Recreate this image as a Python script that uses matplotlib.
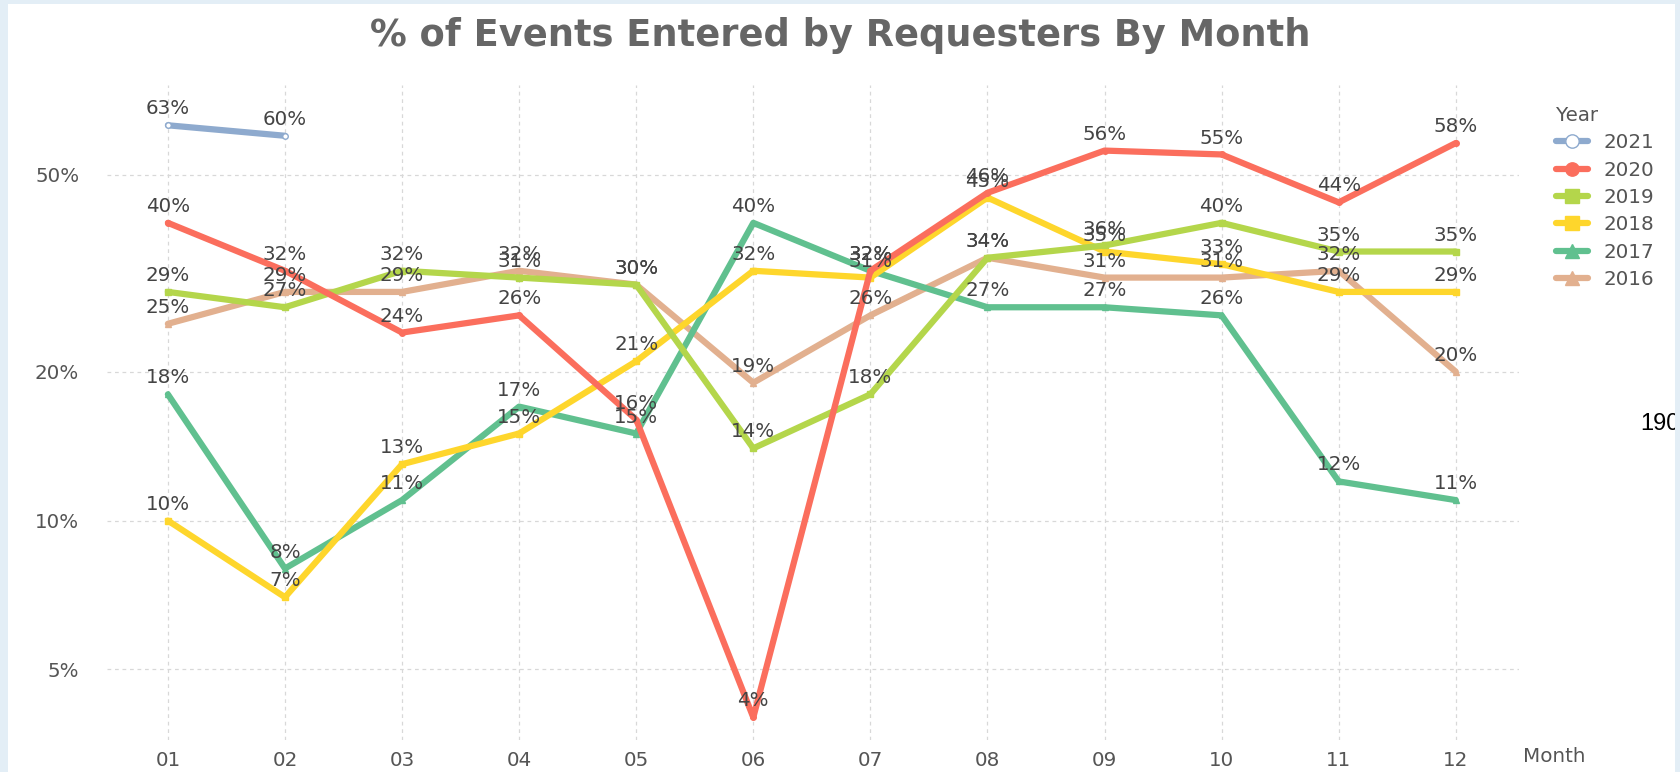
import numpy as np
import matplotlib.pyplot as plt
from matplotlib.patches import Rectangle

months = ["01", "02", "03", "04", "05", "06", "07", "08", "09", "10", "11", "12"]
nan = np.nan

y2021 = [0.63, 0.60, nan, nan, nan, nan, nan, nan, nan, nan, nan, nan]
y2020 = [0.40, 0.32, 0.24, 0.26, 0.16, 0.04, 0.32, 0.46, 0.56, 0.55, 0.44, 0.58]
y2019 = [0.29, 0.27, 0.32, 0.31, 0.30, 0.14, 0.18, 0.34, 0.36, 0.40, 0.35, 0.35]
y2018 = [0.10, 0.07, 0.13, 0.15, 0.21, 0.32, 0.31, 0.45, 0.35, 0.33, 0.29, 0.29]
y2017 = [0.18, 0.08, 0.11, 0.17, 0.15, 0.40, 0.32, 0.27, 0.27, 0.26, 0.12, 0.11]
y2016 = [0.25, 0.29, 0.29, 0.32, 0.30, 0.19, 0.26, 0.34, 0.31, 0.31, 0.32, 0.20]

years = ["2021", "2020", "2019", "2018", "2017", "2016"]
series = [y2021, y2020, y2019, y2018, y2017, y2016]
colors = ["#8eaace", "#fb6e5d", "#b4d64b", "#fed62c", "#60c08f", "#e2b08f"]
markers = ["o", "o", "s", "s", "^", "^"]

yticks = [0.05, 0.10, 0.20, 0.50]
ytick_labels = ["5%", "10%", "20%", "50%"]

W, H = 1681, 772
fig = plt.figure(figsize=(W / 100, H / 100), dpi=100, facecolor="#e3eef6")
fig.add_artist(Rectangle((8 / W, 0), (1675 - 8) / W, 1 - 4 / H,
                         transform=fig.transFigure, facecolor="white",
                         edgecolor="none", zorder=-1))

ax = fig.add_axes([107 / W, 1 - 740 / H, (1519 - 107) / W, (740 - 85) / H])
ax.set_facecolor("none")
x = np.arange(len(months))

# draw older years first so 2020/2021 sit on top
for year, vals, c, m in reversed(list(zip(years, series, colors, markers))):
    vals = np.array(vals, dtype=float)
    mfc = "white" if year == "2021" else c
    ax.plot(x, vals, color=c, lw=4.5, marker=m, ms=4, mfc=mfc, mec=c, mew=1,
            label=year, solid_capstyle="round")
    for xi, v in zip(x, vals):
        if np.isnan(v):
            continue
        ax.annotate(f"{v * 100:.0f}%", (xi, v), xytext=(0, 5),
                    textcoords="offset points", ha="center", va="bottom",
                    fontsize=14.3, color="#444444", zorder=10)

ax.set_yscale("log")
ax.set_ylim(0.036, 0.76)
ax.set_xlim(-0.52, 11.54)
ax.set_yticks(yticks)
ax.set_yticklabels(ytick_labels)
ax.yaxis.set_minor_locator(plt.NullLocator())
ax.set_xticks(x)
ax.set_xticklabels(months)
ax.tick_params(length=0, labelsize=14.3, colors="#555555")
ax.tick_params(axis="y", pad=20)
ax.tick_params(axis="x", pad=8)
for s in ax.spines.values():
    s.set_visible(False)
ax.grid(True, color="#d8d8d8", lw=0.9, ls=(0, (3, 3)))
ax.set_axisbelow(True)

fig.text(1523 / W, 1 - 757 / H, "Month", fontsize=14.3, color="#555555",
         ha="left", va="center")

handles, labels = ax.get_legend_handles_labels()
order = [labels.index(y) for y in years]
leg = ax.legend([handles[i] for i in order], years, title="Year",
                loc="upper left", bbox_to_anchor=(1538 / W, 1 - 88 / H),
                bbox_transform=fig.transFigure, frameon=False, fontsize=14.3,
                title_fontsize=14.3, labelcolor="#555555", handlelength=1.6,
                labelspacing=0.42, markerscale=2.4)
leg.get_title().set_color("#555555")
leg._legend_box.align = "left"

fig.suptitle("% of Events Entered by Requesters By Month", x=0.5,
             y=1 - 36 / H, va="center", fontsize=26.5, fontweight="bold",
             color="#666666")

fig.text(1640 / W, 1 - 424 / H, "190", fontsize=17, color="black",
         family="Liberation Sans", ha="left", va="center", zorder=3)
fig.add_artist(Rectangle((1675 / W, 0), 1, 1, transform=fig.transFigure,
                         facecolor="#e3eef6", edgecolor="none", zorder=5))

fig.savefig("out.png", dpi=100, facecolor=fig.get_facecolor())
